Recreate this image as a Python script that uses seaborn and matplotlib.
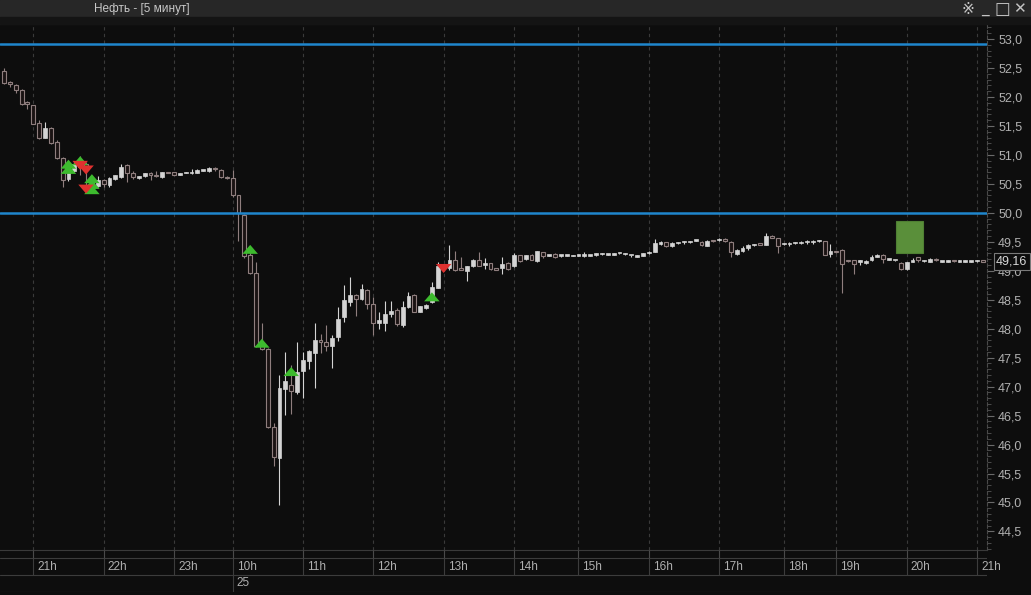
import matplotlib
matplotlib.use("Agg")
import matplotlib.pyplot as plt
import matplotlib.transforms as mtransforms
from matplotlib.patches import Rectangle
from matplotlib.ticker import MultipleLocator, FuncFormatter
import numpy as np
import pandas as pd
import seaborn as sns

# 5-minute oil candles, one entry per bar
opens = [52.45, 52.26, 52.20, 52.12, 51.89, 51.86, 51.55, 51.30, 51.47, 51.22,
         50.95, 50.58, 50.72, 50.85, 50.85, 50.45, 50.47, 50.56, 50.48, 50.58,
         50.62, 50.83, 50.68, 50.60, 50.63, 50.68, 50.66, 50.62, 50.70, 50.70,
         50.66, 50.69, 50.68, 50.69, 50.73, 50.72, 50.78, 50.74, 50.62, 50.61,
         50.31, 49.97, 49.28, 48.96, 47.72, 47.65, 46.30, 45.77, 46.96, 47.03,
         46.90, 47.27, 47.44, 47.58, 47.80, 47.77, 47.71, 47.86, 48.20, 48.46,
         48.58, 48.52, 48.67, 48.43, 48.10, 48.10, 48.25, 48.33, 48.06, 48.38,
         48.59, 48.29, 48.35, 48.46, 48.71, 49.08, 49.04, 49.19, 49.025, 49.00,
         49.08, 49.19, 49.10, 49.13, 49.03, 49.04, 49.13, 49.08, 49.27, 49.20,
         49.28, 49.17, 49.32, 49.26, 49.29, 49.26, 49.26, 49.25, 49.26, 49.26,
         49.26, 49.28, 49.29, 49.28, 49.28, 49.30, 49.29, 49.27, 49.24, 49.26,
         49.31, 49.33, 49.47, 49.49, 49.42, 49.48, 49.49, 49.50, 49.52, 49.50,
         49.43, 49.52, 49.53, 49.55, 49.50, 49.29, 49.34, 49.40, 49.44, 49.47,
         49.45, 49.60, 49.56, 49.46, 49.46, 49.48, 49.48, 49.50, 49.50, 49.51,
         49.51, 49.29, 49.33, 49.36, 49.18, 49.18, 49.16, 49.13, 49.18, 49.24,
         49.28, 49.19, 49.18, 49.14, 49.03, 49.16, 49.23, 49.17, 49.16, 49.21,
         49.16, 49.16, 49.18, 49.16, 49.16, 49.16, 49.17, 49.17]
highs = [52.50, 52.28, 52.22, 52.13, 51.93, 51.87, 51.60, 51.57, 51.48, 51.26,
         50.97, 50.85, 50.90, 50.99, 50.87, 50.60, 50.64, 50.58, 50.62, 50.66,
         50.84, 50.84, 50.72, 50.64, 50.69, 50.70, 50.72, 50.71, 50.71, 50.71,
         50.69, 50.70, 50.75, 50.76, 50.74, 50.79, 50.79, 50.76, 50.63, 50.74,
         50.31, 49.98, 49.33, 49.15, 48.10, 47.66, 46.38, 47.20, 47.60, 47.37,
         47.77, 47.60, 47.64, 48.10, 47.91, 48.06, 47.89, 48.38, 48.75, 48.89,
         48.60, 48.78, 48.69, 48.55, 48.29, 48.48, 48.48, 48.35, 48.48, 48.64,
         48.60, 48.40, 48.42, 48.81, 49.15, 49.12, 49.44, 49.35, 49.24, 49.09,
         49.20, 49.32, 49.22, 49.14, 49.04, 49.24, 49.15, 49.31, 49.28, 49.27,
         49.29, 49.35, 49.33, 49.27, 49.30, 49.27, 49.27, 49.27, 49.27, 49.33,
         49.27, 49.30, 49.30, 49.29, 49.31, 49.31, 49.30, 49.28, 49.28, 49.31,
         49.34, 49.54, 49.51, 49.50, 49.49, 49.49, 49.52, 49.52, 49.53, 49.51,
         49.53, 49.53, 49.56, 49.56, 49.51, 49.37, 49.43, 49.46, 49.47, 49.48,
         49.65, 49.61, 49.57, 49.48, 49.49, 49.49, 49.51, 49.53, 49.53, 49.53,
         49.52, 49.47, 49.34, 49.37, 49.19, 49.19, 49.18, 49.18, 49.27, 49.29,
         49.29, 49.20, 49.19, 49.15, 49.16, 49.22, 49.23, 49.19, 49.22, 49.22,
         49.17, 49.19, 49.19, 49.18, 49.18, 49.17, 49.18, 49.18]
lows = [52.22, 52.18, 52.07, 51.87, 51.80, 51.53, 51.28, 51.29, 51.18, 50.93,
        50.45, 50.55, 50.70, 50.65, 50.42, 50.40, 50.44, 50.44, 50.45, 50.57,
        50.60, 50.53, 50.58, 50.59, 50.62, 50.57, 50.62, 50.61, 50.68, 50.65,
        50.65, 50.68, 50.67, 50.68, 50.72, 50.71, 50.73, 50.61, 50.59, 50.28,
        49.52, 49.22, 48.95, 47.68, 47.63, 46.28, 45.63, 44.96, 46.51, 46.53,
        46.88, 46.80, 47.31, 46.98, 47.58, 47.62, 47.33, 47.78, 48.12, 48.40,
        48.22, 48.50, 48.34, 47.89, 48.00, 47.96, 48.20, 48.05, 48.03, 48.36,
        48.29, 48.28, 48.34, 48.45, 48.70, 49.00, 49.02, 48.99, 49.01, 48.83,
        49.07, 49.08, 49.03, 49.02, 49.01, 48.94, 49.02, 49.07, 49.15, 49.18,
        49.18, 49.16, 49.22, 49.25, 49.22, 49.24, 49.25, 49.25, 49.25, 49.23,
        49.25, 49.26, 49.28, 49.27, 49.27, 49.29, 49.28, 49.24, 49.23, 49.25,
        49.29, 49.32, 49.45, 49.41, 49.41, 49.47, 49.47, 49.48, 49.51, 49.43,
        49.42, 49.50, 49.52, 49.50, 49.23, 49.27, 49.33, 49.36, 49.43, 49.44,
        49.44, 49.56, 49.31, 49.44, 49.42, 49.47, 49.47, 49.47, 49.47, 49.50,
        49.27, 49.24, 49.31, 48.61, 49.16, 48.95, 49.10, 49.12, 49.17, 49.23,
        49.14, 49.18, 49.17, 49.02, 49.02, 49.15, 49.16, 49.15, 49.15, 49.17,
        49.15, 49.15, 49.16, 49.15, 49.15, 49.15, 49.16, 49.15]
closes = [52.25, 52.22, 52.12, 51.88, 51.885, 51.54, 51.29, 51.47, 51.20, 50.94,
          50.57, 50.74, 50.85, 50.80, 50.74, 50.55, 50.56, 50.50, 50.60, 50.65,
          50.80, 50.68, 50.62, 50.63, 50.68, 50.65, 50.63, 50.70, 50.69, 50.66,
          50.68, 50.69, 50.71, 50.74, 50.73, 50.78, 50.76, 50.62, 50.60, 50.30,
          49.99, 49.25, 48.96, 47.70, 47.65, 46.30, 45.78, 46.97, 47.09, 46.93,
          47.26, 47.46, 47.61, 47.80, 47.77, 47.71, 47.84, 48.16, 48.49, 48.58,
          48.52, 48.68, 48.42, 48.10, 48.15, 48.26, 48.30, 48.08, 48.38, 48.57,
          48.29, 48.39, 48.41, 48.72, 49.08, 49.05, 49.19, 49.02, 49.02, 49.08,
          49.19, 49.09, 49.14, 49.03, 49.02, 49.11, 49.03, 49.27, 49.17, 49.27,
          49.18, 49.34, 49.25, 49.26, 49.24, 49.26, 49.26, 49.27, 49.26, 49.26,
          49.26, 49.28, 49.29, 49.28, 49.30, 49.30, 49.29, 49.27, 49.27, 49.30,
          49.33, 49.48, 49.50, 49.43, 49.48, 49.48, 49.49, 49.52, 49.52, 49.44,
          49.52, 49.51, 49.55, 49.52, 49.33, 49.36, 49.40, 49.44, 49.46, 49.45,
          49.60, 49.57, 49.43, 49.46, 49.48, 49.48, 49.50, 49.50, 49.50, 49.51,
          49.28, 49.34, 49.32, 49.12, 49.17, 49.12, 49.16, 49.17, 49.24, 49.27,
          49.20, 49.19, 49.18, 49.03, 49.15, 49.19, 49.19, 49.17, 49.20, 49.18,
          49.16, 49.18, 49.17, 49.18, 49.18, 49.16, 49.17, 49.16]

# hour boundaries (bar index) and labels for the time scale
hour_ticks = [5, 17, 29, 39, 51, 63, 75, 87, 98, 110, 122, 133, 142, 154, 166]
hour_labels = ["21h", "22h", "23h", "10h", "11h", "12h", "13h", "14h",
               "15h", "16h", "17h", "18h", "19h", "20h", "21h"]
date_tick = 39
date_label = "25"

# horizontal levels, signals, target zone
levels = [52.91, 50.0]
buy_idx = [11, 11, 13, 15, 15, 15, 42, 44, 49, 73]
buy_price = [50.75, 50.84, 50.90, 50.40, 50.49, 50.59, 49.37, 47.75, 47.26, 48.55]
sell_idx = [13, 14, 14, 75]
sell_price = [50.82, 50.74, 50.41, 49.04]
target_bars = [152.2, 156.8]
target_prices = [49.31, 49.86]
last_price = 49.16

title = "Нефть - [5 минут]"

BG = "#0d0d0d"
UP = "#d4d4d4"
DOWN_FACE = "#1a1313"
DOWN_EDGE = "#8f7e7e"
GRID = "#3a3a3a"
TEXT = "#b0b0b0"

sns.set_theme(style="dark", rc={"axes.facecolor": BG, "figure.facecolor": BG})
plt.rcParams["font.family"] = ["Liberation Sans", "DejaVu Sans"]

W, H = 1031, 595
fig = plt.figure(figsize=(W / 100, H / 100), dpi=100)

# title bar
fig.patches.append(Rectangle((0, 1 - 17 / H), 1, 17 / H, transform=fig.transFigure,
                             color="#272727", zorder=0))
fig.patches.append(Rectangle((0, 1 - 24 / H), 1, 7 / H, transform=fig.transFigure,
                             color="#141414", zorder=0))
fig.text(142 / W, 1 - 9 / H, title, ha="center", va="center", fontsize=8.5, color="#c8c8c8")
for xp, glyph, fs in [(968, "※", 11), (985, "_", 11), (1002, "□", 12), (1019, "✕", 11)]:
    fig.text(xp / W, 1 - 9 / H, glyph, ha="center", va="center", fontsize=fs,
             color="#c4c4c4", family=["DejaVu Sans"])

ax = fig.add_axes([0, 45 / H, 987 / W, 526 / H])
ax.set_facecolor(BG)

df = pd.DataFrame({"o": opens, "h": highs, "l": lows, "c": closes})
df["i"] = np.arange(len(df))
up = df["c"] >= df["o"]
body_lo = np.minimum(df["o"], df["c"])
body_h = np.maximum((df["c"] - df["o"]).abs(), 0.022)

wick_colors = np.where(up, UP, DOWN_EDGE)
ax.vlines(df["i"], df["l"], df["h"], colors=wick_colors, lw=0.8, zorder=2)
ax.bar(df["i"][up], body_h[up], bottom=body_lo[up], width=0.66,
       color=UP, edgecolor=UP, lw=0.5, zorder=3)
ax.bar(df["i"][~up], body_h[~up], bottom=body_lo[~up], width=0.66,
       color=DOWN_FACE, edgecolor=DOWN_EDGE, lw=0.8, zorder=3)

for lv in levels:
    ax.axhline(lv, color="#1f86cc", lw=1.8, zorder=4)

ax.add_patch(Rectangle((target_bars[0], target_prices[0]),
                       target_bars[1] - target_bars[0],
                       target_prices[1] - target_prices[0],
                       facecolor="#5a8f3a", edgecolor="#4f7f33", lw=0.8, zorder=4))

tri_up = [(-1, -0.58), (1, -0.58), (0, 0.58)]
tri_dn = [(-1, 0.58), (1, 0.58), (0, -0.58)]
sns.scatterplot(x=buy_idx, y=buy_price, marker=tri_up, s=125, color="#3dbb2e",
                edgecolor="none", linewidth=0, zorder=5, ax=ax)
sns.scatterplot(x=sell_idx, y=sell_price, marker=tri_dn, s=125, color="#e0312f",
                edgecolor="none", linewidth=0, zorder=5, ax=ax)

ax.set_xlim(-0.68, 167.7)
ax.set_ylim(44.18, 53.26)

# vertical dashed hour lines
ax.set_xticks(hour_ticks)
ax.tick_params(axis="x", bottom=False, labelbottom=False)
ax.xaxis.grid(True, color=GRID, ls=(0, (3, 3)), lw=0.8)
ax.yaxis.grid(False)

# price scale on the right
ax.yaxis.tick_right()
ax.yaxis.set_major_locator(MultipleLocator(0.5))
ax.yaxis.set_minor_locator(MultipleLocator(0.1))
ax.yaxis.set_major_formatter(FuncFormatter(lambda v, _: f"{v:.1f}".replace(".", ",")))
ax.tick_params(axis="y", which="major", right=True, length=5, width=0.8,
               color="#6a6a6a", labelcolor=TEXT, labelsize=9, pad=3)
ax.tick_params(axis="y", which="minor", right=True, length=3, width=0.7, color="#4a4a4a")
ax.set_xlabel("")
ax.set_ylabel("")
ax.spines["left"].set_visible(False)
ax.spines["top"].set_color("#3a3a3a")
ax.spines["bottom"].set_color("#3a3a3a")
ax.spines["right"].set_color("#4a4a4a")
ax.spines["right"].set_linestyle((0, (3, 2)))
for sp in ["top", "bottom", "right"]:
    ax.spines[sp].set_linewidth(0.8)

# last price box
trans = mtransforms.blended_transform_factory(ax.transAxes, ax.transData)
ax.text(1 + 9 / 987, last_price, f"{last_price:.2f}".replace(".", ","), transform=trans,
        ha="left", va="center", fontsize=9, color="#d8d8d8", clip_on=False, zorder=10,
        bbox=dict(boxstyle="square,pad=0.2", fc=BG, ec="#7a7a7a", lw=0.8))

# time scale band below the plot
bax = fig.add_axes([0, 3 / H, 987 / W, 42 / H])
bax.set_xlim(ax.get_xlim())
bax.set_ylim(0, 42)
bax.axis("off")
for yl in [34, 17, 0]:
    bax.axhline(yl, color="#3c3c3c", lw=0.8)
bax.vlines(hour_ticks, 34, 42, colors="#4a4a4a", lw=0.8)
bax.vlines(hour_ticks, 17, 34, colors="#3c3c3c", lw=0.8)
for t, lab in zip(hour_ticks, hour_labels):
    bax.text(t + 0.7, 25.5, lab, ha="left", va="center", fontsize=8.5, color=TEXT, clip_on=False)
bax.vlines([date_tick], 0, 17, colors="#3c3c3c", lw=0.8)
bax.text(date_tick + 0.7, 8.5, date_label, ha="left", va="center", fontsize=8.5, color=TEXT)

plt.savefig("out.png", dpi=100, facecolor=BG)
